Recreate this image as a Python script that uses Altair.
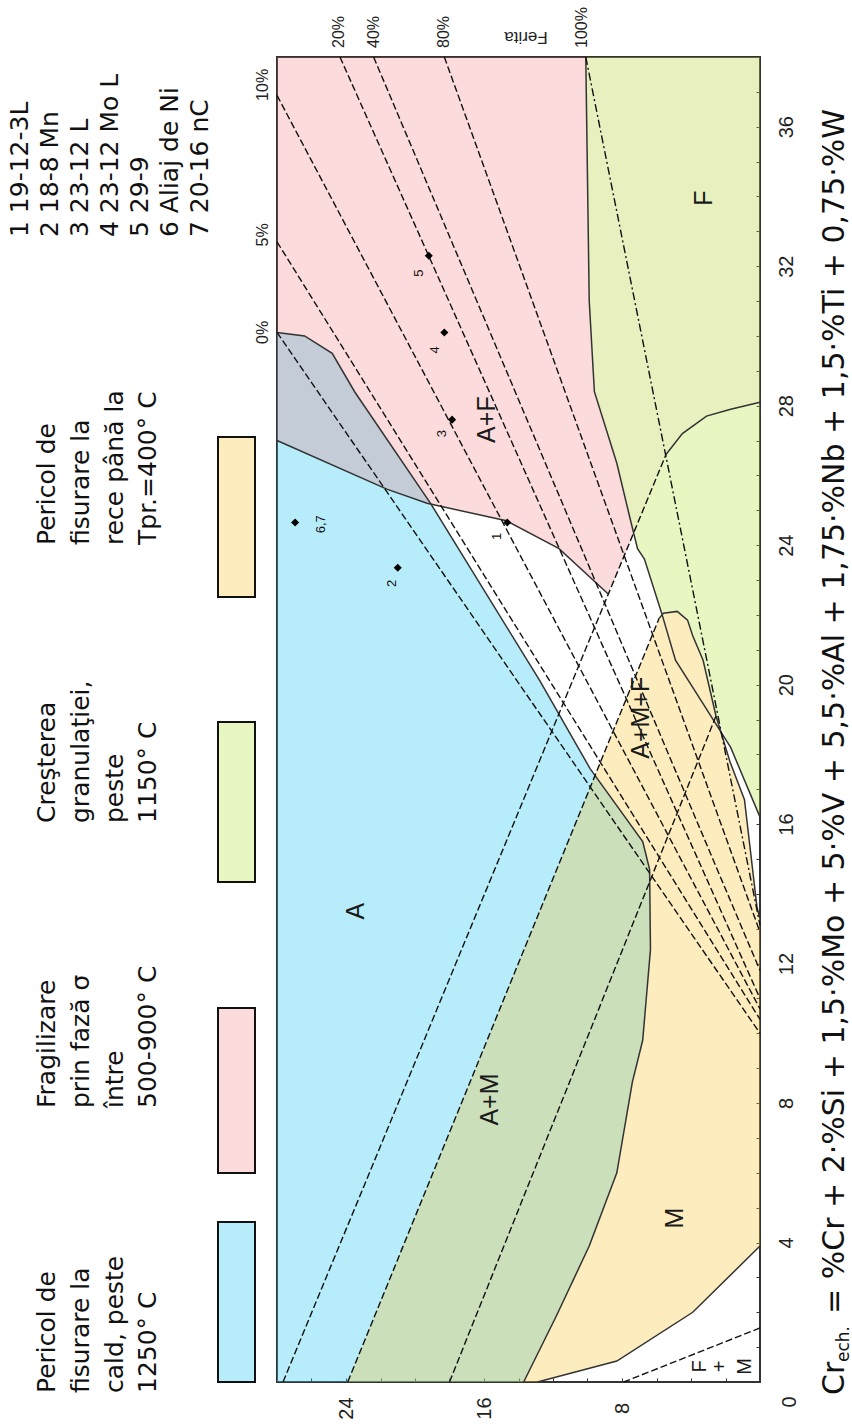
import altair as alt
import pandas as pd

# Schaeffler constitution diagram with the Bystram risk zones, drawn turned on
# its side: Ni-equivalent runs right-to-left, Cr-equivalent runs bottom-to-top.

# ---------------- risk zones, vertices as (Ni_ech, Cr_ech) ----------------
zone_hot_cracking = [(28, 30.1), (26.4, 30.0), (24.8, 29.5), (23.5, 28.4), (19.1, 25.2),
                     (12.75, 20.1), (9.86, 17.6), (6.8, 15.5), (6.4, 14.7), (6.35, 12.4),
                     (6.8, 9.8), (7.4, 8.6), (8.3, 6.0), (9.9, 3.9), (11.8, 1.9),
                     (13.7, 0), (28, 0)]
# sigma embrittlement: austenite-ferrite part and the part lying in the ferrite field
zone_sigma = [(28, 38), (10.1, 38), (9.9, 31.0), (9.6, 28.4), (8.3, 26.35), (7.5, 24.7),
              (7.35, 24.3), (8.8, 22.6), (11.65, 23.9), (14.7, 24.7), (19.3, 25.2),
              (21.6, 25.6), (28, 27.0)]
zone_sigma_ferrite = [(10.1, 38), (0, 38), (0, 28.1), (1.7, 27.9), (3.1, 27.7), (4.5, 27.2),
                      (5.45, 26.6), (7.35, 24.3), (7.5, 24.7), (8.3, 26.35), (9.6, 28.4),
                      (9.9, 31.0)]
zone_grain = [(10.1, 38), (0, 38), (0, 16.2), (1.7, 18.2), (2.55, 19.1), (3.3, 20.7),
              (4.2, 21.85), (4.8, 22.1), (5.7, 22.05), (6.7, 23.6), (7.1, 23.9),
              (7.5, 24.7), (8.3, 26.35), (9.6, 28.4), (9.9, 31.0)]
zone_cold_cracking = [(23.9, 0), (5.85, 21.9), (5.6, 22.05), (4.8, 22.1), (4.2, 21.85),
                      (3.9, 21.4), (3.3, 20.7), (2.55, 19.1), (1.75, 17.8), (0.9, 16.7),
                      (0.17, 13.6), (0, 13.3), (0, 3.9), (3.9, 2.0), (8.3, 0.6), (12.9, 0)]

# ---------------- boundary curves ----------------
solid_edges = {
    "hot": zone_hot_cracking[:-1],
    "sigma_low": [(28, 27.0), (21.6, 25.6), (19.3, 25.2), (14.7, 24.7), (11.65, 23.9), (8.8, 22.6)],
    "sigma_f": [(5.45, 26.6), (4.5, 27.2), (3.1, 27.7), (1.7, 27.9), (0, 28.1)],
    "grain": [(10.1, 38), (9.9, 31.0), (9.6, 28.4), (8.3, 26.35), (7.5, 24.7), (7.1, 23.9),
              (6.7, 23.6), (5.7, 22.05), (4.9, 20.7), (3.1, 19.3), (1.7, 18.2), (0, 16.2)],
    "cold": zone_cold_cracking[1:12],
    "martensite": [(0, 3.9), (3.9, 2.0), (8.3, 0.6), (12.9, 0)],
}

# dashed constitution lines (martensite lines, F+M limit, iso-ferrite lines)
dashed_lines = {
    "m1": [(27.65, 0), (5.45, 26.6)],
    "m2": [(23.9, 0), (5.85, 21.9)],
    "m3": [(18.0, 0), (2.55, 19.1)],
    "fm": [(0, 1.55), (7.9, 0)],
    "f0": [(28, 30.1), (0, 10.0)],
    "f5": [(28, 32.7), (0, 10.4)],
    "f10": [(28, 36.9), (0, 10.7)],
    "f20": [(24.35, 38), (0, 11.0)],
    "f40": [(22.4, 38), (0, 11.8)],
    "f80": [(18.3, 38), (0, 12.9)],
}
ferrite_100 = {"f100": [(10.1, 38), (0, 13.1)]}

# ---------------- alloys ----------------
alloy_tag = ["1", "2", "3", "4", "5", "6,7"]
alloy_ni = [14.65, 21.0, 17.85, 18.3, 19.2, 26.95]
alloy_cr = [24.65, 23.35, 27.6, 30.1, 32.3, 24.65]
tag_ni = [15.25, 21.35, 18.45, 18.85, 19.75, 25.45]
tag_cr = [24.25, 22.9, 27.2, 29.6, 31.8, 24.6]

# ---------------- structure field names ----------------
field_names = ["A", "A+M", "M", "F", "A+F", "A+M+F"]
field_ni = [23.4, 15.65, 4.9, 3.25, 15.8, 6.9]
field_cr = [13.5, 8.1, 4.7, 33.95, 27.6, 19.05]
fm_chars = ["F", "+", "M"]
fm_ni = [3.5, 2.3, 0.85]
fm_cr = [0.45, 0.45, 0.45]

ferrite_top = ["20%", "40%", "80%", "100%"]
ferrite_top_ni = [24.4, 22.4, 18.3, 10.3]
ferrite_left = ["10%", "5%", "0%"]
ferrite_left_cr = [37.2, 32.9, 30.1]

alloy_list = ["1 19-12-3L", "2 18-8 Mn", "3 23-12 L", "4 23-12 Mo L",
              "5 29-9", "6 Aliaj de Ni", "7 20-16 nC"]
legend_lines = [
    ["Pericol de", "fisurare la", "cald, peste", "1250° C"],
    ["Fragilizare", "prin fază σ", "între", "500-900° C"],
    ["Creşterea", "granulaţiei,", "peste", "1150° C"],
    ["Pericol de", "fisurare la", "rece până la", "Tpr.=400° C"],
]

CYAN, RED, GREEN, YELLOW = "#2cc6f0", "#f06868", "#b2e136", "#f6c536"

# ---------------- scales & axes ----------------
ni_axis = alt.Axis(orient="bottom", values=list(range(0, 29, 2)),
                   labelExpr="datum.value % 8 == 0 && datum.value > 0 ? datum.label : ''",
                   labelAngle=270, labelAlign="center", labelBaseline="middle",
                   labelPadding=26, labelOverlap=False, tickSize=4, offset=-4,
                   domain=False, grid=False, labelFont="Liberation Sans",
                   labelFontSize=20, labelColor="#222", tickColor="#333", title="")
cr_axis = alt.Axis(orient="right", values=list(range(0, 39)),
                   labelExpr="datum.value % 4 == 0 && datum.value > 0 ? datum.label : ''",
                   labelAngle=270, labelAlign="center", labelBaseline="middle",
                   labelPadding=26, labelOverlap=False, tickSize=4, offset=-4,
                   domain=False, grid=False, labelFont="Liberation Sans",
                   labelFontSize=20, labelColor="#222", tickColor="#333", title="")


def X():
    return alt.X("ni:Q", scale=alt.Scale(domain=[0, 28], reverse=True, nice=False, zero=False),
                 axis=ni_axis, title="")


def Y():
    return alt.Y("cr:Q", scale=alt.Scale(domain=[0, 38], nice=False, zero=False),
                 axis=cr_axis, title="")


def poly_df(pts):
    return pd.DataFrame({"ni": [p[0] for p in pts], "cr": [p[1] for p in pts],
                         "i": list(range(len(pts)))})


def lines_df(named):
    rows = []
    for name, pts in named.items():
        for k, (ni, cr) in enumerate(pts):
            rows.append({"seg": name, "i": k, "ni": ni, "cr": cr})
    return pd.DataFrame(rows)


def zone(pts, color, alpha):
    return alt.Chart(poly_df(pts)).mark_line(
        interpolate="linear-closed", fill=color, fillOpacity=alpha, strokeOpacity=0
    ).encode(x=X(), y=Y(), order="i:Q")


def curves(named, dash, color, width):
    mark = dict(color=color, strokeWidth=width)
    if dash:
        mark["strokeDash"] = dash
    return alt.Chart(lines_df(named)).mark_line(**mark).encode(
        x=X(), y=Y(), detail="seg:N", order="i:Q")


one = pd.DataFrame({"k": [0]})


def note(txt, px, py, size, font="DejaVu Sans", angle=270, align="left", color="#111"):
    return alt.Chart(one).mark_text(
        text=txt, angle=angle, align=align, baseline="middle", font=font,
        fontSize=size, color=color
    ).encode(x=alt.value(px), y=alt.value(py))


def swatch(y0, y1, color, alpha):
    return alt.Chart(one).mark_rect(
        fill=color, fillOpacity=alpha, stroke="#111", strokeWidth=2
    ).encode(x=alt.value(-59), x2=alt.value(-22), y=alt.value(y0), y2=alt.value(y1))


layers = [
    zone(zone_hot_cracking, CYAN, 0.34),
    zone(zone_grain, GREEN, 0.30),
    zone(zone_sigma, RED, 0.24),
    zone(zone_sigma_ferrite, RED, 0.04),
    zone(zone_cold_cracking, YELLOW, 0.32),
    curves(solid_edges, None, "#333", 1.5),
    curves(dashed_lines, [7, 3], "#111", 1.4),
    curves(ferrite_100, [8, 3, 2, 3], "#111", 1.4),
]

alloys = pd.DataFrame({"ni": alloy_ni, "cr": alloy_cr})
layers.append(alt.Chart(alloys).mark_point(shape="diamond", filled=True, color="#000",
                                           size=65, opacity=1).encode(x=X(), y=Y()))
tags = pd.DataFrame({"ni": tag_ni, "cr": tag_cr, "t": alloy_tag})
layers.append(alt.Chart(tags).mark_text(angle=270, font="Liberation Sans", fontSize=13,
                                        align="center", baseline="middle", color="#111")
              .encode(x=X(), y=Y(), text="t:N"))

fields = pd.DataFrame({"ni": field_ni, "cr": field_cr, "t": field_names})
layers.append(alt.Chart(fields).mark_text(angle=270, font="Liberation Sans", fontSize=25,
                                          align="center", baseline="middle", color="#1a1a1a")
              .encode(x=X(), y=Y(), text="t:N"))
fm = pd.DataFrame({"ni": fm_ni, "cr": fm_cr, "t": fm_chars})
layers.append(alt.Chart(fm).mark_text(angle=270, font="Liberation Sans", fontSize=20,
                                      align="center", baseline="middle", color="#1a1a1a")
              .encode(x=X(), y=Y(), text="t:N"))

top_pct = pd.DataFrame({"ni": ferrite_top_ni, "t": ferrite_top})
layers.append(alt.Chart(top_pct).mark_text(angle=270, font="Liberation Sans", fontSize=16,
                                           align="left", baseline="middle", color="#222")
              .encode(x=X(), y=alt.value(-9), text="t:N"))
left_pct = pd.DataFrame({"cr": ferrite_left_cr, "t": ferrite_left})
layers.append(alt.Chart(left_pct).mark_text(angle=270, font="Liberation Sans", fontSize=16,
                                            align="center", baseline="middle", color="#222")
              .encode(x=alt.value(-14), y=Y(), text="t:N"))

layers.append(note("Ferita", 249, -20, 17, font="Liberation Sans", angle=180, align="center", color="#222"))
layers.append(note("0", 513, 1345, 20, font="Liberation Sans", align="center", color="#222"))

# axis title: Cr with subscript, then the equivalence formula
layers.append(note("Cr", 558, 1338, 30))
layers.append(note("ech.", 567, 1305, 17))
layers.append(note("= %Cr + 2·%Si + 1,5·%Mo + 5·%V + 5,5·%Al + 1,75·%Nb + 1,5·%Ti + 0,75·%W",
                   558, 1257, 30))

# alloy list
for k, line in enumerate(alloy_list):
    layers.append(note(line, -257 + 30 * k, 180, 25))

# risk-zone legend
col_start = [1336, 1051, 766, 488]
line_x = [-230, -196, -162, -129]
for col, lines in enumerate(legend_lines):
    for j, line in enumerate(lines):
        layers.append(note(line, line_x[j], col_start[col], 25))

layers.append(swatch(1165, 1325, CYAN, 0.34))
layers.append(swatch(951, 1116, RED, 0.24))
layers.append(swatch(665, 825, GREEN, 0.30))
layers.append(swatch(380, 540, YELLOW, 0.32))

chart = alt.layer(*layers).properties(
    width=483, height=1325,
    padding={"left": 277, "top": 57, "right": 92, "bottom": 45},
    autosize=alt.AutoSizeParams(type="none"),
    background="white",
).configure_view(stroke="#333", strokeWidth=2)

chart.save("out.html", embed_options={"renderer": "svg", "actions": False})
